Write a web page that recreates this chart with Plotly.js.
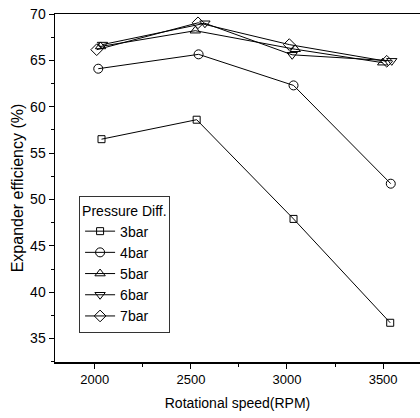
<!DOCTYPE html>
<html>
<head>
<meta charset="utf-8">
<script src="https://cdn.plot.ly/plotly-3.0.1.min.js"></script>
<style>html,body{margin:0;padding:0;background:#fff;}#chart{width:420px;height:418px;}</style>
</head>
<body>
<div id="chart"></div>
<script>
const seriesNames = ["3bar", "4bar", "5bar", "6bar", "7bar"];
const symbols = ["square-open", "circle-open", "triangle-up-open", "triangle-down-open", "diamond-open"];
const x3 = [2035, 2530, 3034, 3537];
const y3 = [56.5, 58.6, 47.9, 36.7];
const x4 = [2018, 2540, 3034, 3540];
const y4 = [64.1, 65.65, 62.3, 51.7];
const x5 = [2030, 2523, 3043, 3498];
const y5 = [66.5, 68.2, 66.2, 64.75];
const x6 = [2040, 2573, 3027, 3545];
const y6 = [66.7, 69.0, 65.6, 64.95];
const x7 = [2010, 2537, 3012, 3519];
const y7 = [66.15, 69.05, 66.7, 64.9];
const xs = [x3, x4, x5, x6, x7];
const ys = [y3, y4, y5, y6, y7];
const xTicks = [2000, 2500, 3000, 3500];
const yTicks = [35, 40, 45, 50, 55, 60, 65, 70];

const sans = "'Liberation Sans', Arial, sans-serif";
const traces = seriesNames.map((n, i) => ({
  x: xs[i], y: ys[i], name: n, type: 'scatter', mode: 'lines+markers',
  line: {color: '#000', width: 1},
  marker: {symbol: symbols[i], size: symbols[i] === 'square-open' ? 7 : 9, color: '#000', line: {width: 1, color: '#000'}}
}));

const layout = {
  width: 420, height: 418,
  margin: {l: 55, r: 0, t: 14, b: 56},
  paper_bgcolor: '#fff', plot_bgcolor: '#fff',
  font: {family: sans, size: 13, color: '#000'},
  showlegend: true,
  legend: {
    x: 0.066, y: 0.476, xanchor: 'left', yanchor: 'top',
    bordercolor: '#333', borderwidth: 1, bgcolor: '#fff',
    font: {family: sans, size: 14, color: '#000'},
    title: {text: 'Pressure Diff.', font: {family: sans, size: 14, color: '#000'}},
    itemwidth: 30
  },
  xaxis: {
    range: [1793, 3692], tickvals: xTicks, ticktext: xTicks.map(String),
    ticks: 'outside', ticklen: 5, tickwidth: 1, tickcolor: '#000',
    showline: true, linecolor: '#000', linewidth: 1.5, mirror: true,
    showgrid: false, zeroline: false,
    minor: {dtick: 250, ticks: 'outside', ticklen: 3, tickcolor: '#000', showgrid: false},
    tickfont: {family: sans, size: 13},
    title: {text: 'Rotational speed(RPM)', font: {family: sans, size: 14}, standoff: 12}
  },
  yaxis: {
    range: [32.47, 70], tickvals: yTicks, ticktext: yTicks.map(String),
    ticks: 'outside', ticklen: 5, tickwidth: 1, tickcolor: '#000',
    showline: true, linecolor: '#000', linewidth: 1.5, mirror: false,
    showgrid: false, zeroline: false,
    minor: {dtick: 2.5, ticks: 'outside', ticklen: 3, tickcolor: '#000', showgrid: false},
    tickfont: {family: sans, size: 14},
    title: {text: 'Expander efficiency (%)', font: {family: sans, size: 16}, standoff: 2}
  }
};
Plotly.newPlot('chart', traces, layout, {displayModeBar: false, staticPlot: true});
</script>
</body>
</html>
